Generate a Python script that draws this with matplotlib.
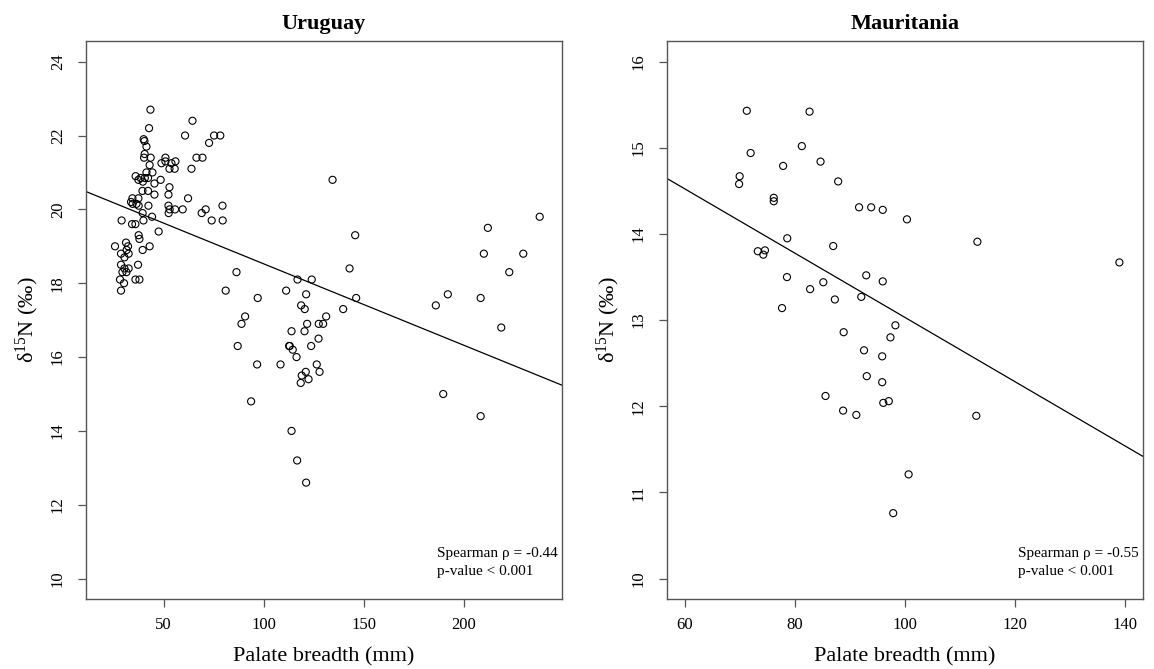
import numpy as np
import matplotlib
matplotlib.use("Agg")
import matplotlib.pyplot as plt

plt.rcParams['font.family'] = ['Liberation Serif', 'DejaVu Serif']
plt.rcParams['mathtext.fontset'] = 'custom'
plt.rcParams['mathtext.rm'] = 'Liberation Serif'
plt.rcParams['mathtext.it'] = 'Liberation Serif:italic'

# Uruguay: palate breadth (mm) vs d15N
uru_x = [43.4, 64.4, 42.7, 60.7, 75.2, 78.3, 40.0, 40.4, 72.7, 41.4, 40.5, 40.2, 43.5, 50.9,
         66.4, 69.4, 48.9, 50.9, 53.9, 55.9, 52.9, 55.5, 63.9, 43.0, 41.4, 44.4, 36.0, 37.4,
         38.5, 40.6, 39.6, 42.2, 48.5, 45.4, 52.9, 39.4, 42.2, 45.4, 52.4, 62.2, 34.4, 33.7,
         34.5, 37.4, 36.4, 37.5, 42.4, 52.4, 53.0, 52.5, 55.7, 59.5, 69.0, 71.0, 79.4, 74.0,
         79.5, 29.0, 34.2, 35.9, 39.9, 44.2, 39.5, 47.5, 37.5, 37.9, 43.0, 39.5, 25.7, 31.2,
         32.2, 31.5, 28.7, 32.5, 30.4, 28.7, 30.4, 32.5, 29.4, 31.4, 37.2, 28.2, 30.2, 35.9,
         37.9, 28.7,
         134.4, 145.7, 142.9, 86.4, 116.9, 124.0, 81.0, 97.0, 111.2, 146.2, 139.7, 121.2,
         118.7, 120.5, 90.7, 88.9, 131.2, 121.7, 127.5, 129.7, 113.9, 120.4, 127.4, 87.0,
         112.7, 113.0, 114.5, 123.7, 116.4, 96.7, 108.4, 126.5, 127.9, 121.0, 119.0, 122.4,
         118.5, 93.7, 113.9, 116.7, 121.2,
         237.9, 212.0, 210.0, 229.7, 222.7, 192.0, 186.0, 208.4, 218.7, 189.7, 208.4]
uru_y = [22.7, 22.4, 22.2, 22.0, 22.0, 22.0, 21.9, 21.85, 21.8, 21.7, 21.5, 21.4, 21.4, 21.4,
         21.4, 21.4, 21.25, 21.3, 21.25, 21.3, 21.1, 21.1, 21.1, 21.2, 21.0, 21.0, 20.9, 20.8,
         20.85, 20.85, 20.75, 20.85, 20.8, 20.7, 20.6, 20.5, 20.5, 20.4, 20.4, 20.3, 20.3, 20.2,
         20.15, 20.3, 20.15, 20.1, 20.1, 20.1, 20.0, 19.9, 20.0, 20.0, 19.9, 20.0, 20.1, 19.7,
         19.7, 19.7, 19.6, 19.6, 19.7, 19.8, 19.9, 19.4, 19.3, 19.2, 19.0, 18.9, 19.0, 19.1,
         19.0, 18.9, 18.8, 18.8, 18.7, 18.5, 18.4, 18.4, 18.3, 18.3, 18.5, 18.1, 18.0, 18.1,
         18.1, 17.8,
         20.8, 19.3, 18.4, 18.3, 18.1, 18.1, 17.8, 17.6, 17.8, 17.6, 17.3, 17.7,
         17.4, 17.3, 17.1, 16.9, 17.1, 16.9, 16.9, 16.9, 16.7, 16.7, 16.5, 16.3,
         16.3, 16.3, 16.2, 16.3, 16.0, 15.8, 15.8, 15.8, 15.6, 15.6, 15.5, 15.4,
         15.3, 14.8, 14.0, 13.2, 12.6,
         19.8, 19.5, 18.8, 18.8, 18.3, 17.7, 17.4, 17.6, 16.8, 15.0, 14.4]

# Mauritania
mau_x = [71.3, 82.7, 72.0, 81.3, 77.9, 84.7, 87.9, 70.0, 69.9, 76.2, 76.2, 78.65, 87.0,
         73.3, 74.6, 74.3, 78.6, 85.2, 82.8, 87.3, 77.7,
         96.0, 92.1, 98.3, 97.4, 88.9, 92.6, 95.9, 93.1, 95.9, 85.6, 88.8, 91.2, 96.1, 97.1,
         113.0, 100.7, 97.9,
         91.7, 93.9, 96.0, 100.4, 113.2, 139.0, 93.0]
mau_y = [15.43, 15.42, 14.94, 15.02, 14.79, 14.84, 14.61, 14.67, 14.58, 14.42, 14.38, 13.95,
         13.86, 13.80, 13.81, 13.76, 13.50, 13.44, 13.36, 13.24, 13.14,
         13.45, 13.27, 12.94, 12.80, 12.86, 12.65, 12.58, 12.35, 12.28, 12.12, 11.95, 11.90,
         12.04, 12.06, 11.89, 11.21, 10.76,
         14.31, 14.31, 14.28, 14.17, 13.91, 13.67, 13.52]

# fitted lines (intercept, slope)
uru_fit = (20.73, -0.02205)
mau_fit = (16.763, -0.0373)

panels = [
    dict(title="Uruguay", x=uru_x, y=uru_y, fit=uru_fit, xlim=(20, 240), ylim=(10, 24),
         xticks=[50, 100, 150, 200], yticks=list(range(10, 25, 2)), rho="-0.44",
         left=86),
    dict(title="Mauritania", x=mau_x, y=mau_y, fit=mau_fit, xlim=(60, 140), ylim=(10, 16),
         xticks=[60, 80, 100, 120, 140], yticks=list(range(10, 17)), rho="-0.55",
         left=667),
]

W, H = 1154, 669
fig = plt.figure(figsize=(W / 100, H / 100), dpi=100)
frame_col = '#555555'

for p in panels:
    ax = fig.add_axes([p['left'] / W, (H - 599.3) / H, 475.5 / W, 558.3 / H])
    ax.scatter(p['x'], p['y'], s=26, facecolors='none', edgecolors='black', linewidths=0.8)
    x0, x1 = p['xlim']
    dx = (x1 - x0) * 0.04
    y0, y1 = p['ylim']
    dy = (y1 - y0) * 0.04
    ax.set_xlim(x0 - dx, x1 + dx)
    ax.set_ylim(y0 - dy, y1 + dy)
    xs = np.array([x0 - dx, x1 + dx])
    ax.plot(xs, p['fit'][0] + p['fit'][1] * xs, color='black', lw=0.9)

    ax.set_xticks(p['xticks'])
    ax.set_yticks(p['yticks'])
    ax.tick_params(axis='both', direction='out', length=5.5, width=0.9, color=frame_col,
                   labelsize=12, pad=7)
    ax.tick_params(axis='y', pad=9)
    for lab in ax.get_yticklabels():
        lab.set_rotation(90)
        lab.set_va('center')
    for s in ax.spines.values():
        s.set_color(frame_col)
        s.set_linewidth(1.0)

    ax.text(0.5, 1 + 17 / 558.3, p['title'], transform=ax.transAxes, ha='center',
            va='center', fontsize=16, fontweight='bold')
    ax.text(0.5, -58 / 558.3, "Palate breadth (mm)", transform=ax.transAxes,
            ha='center', va='center', fontsize=16)
    ax.text(-59 / 475.5, 0.5, r'$\mathrm{\delta}^{15}$N (‰)', transform=ax.transAxes,
            ha='center', va='center', rotation=90, fontsize=16)
    ax.text(0.738, 0.082, "Spearman ρ = " + p['rho'], transform=ax.transAxes,
            ha='left', va='center', fontsize=11)
    ax.text(0.738, 0.050, "p-value < 0.001", transform=ax.transAxes,
            ha='left', va='center', fontsize=11)

fig.savefig("out.png", dpi=100)
